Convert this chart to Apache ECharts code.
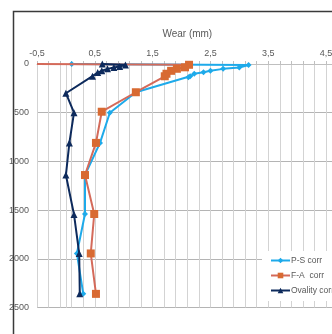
<!DOCTYPE html>
<html><head><meta charset="utf-8">
<script src="https://cdn.jsdelivr.net/npm/echarts@6/dist/echarts.min.js"></script>
<style>html,body{margin:0;padding:0;background:#fff}#c{width:332px;height:334px}</style>
</head><body><div id="c"></div>
<script>
// Data: [wear (mm), depth (mm)]
const psCorr = [[0.1,0],[3.16,10],[3.0,35],[2.72,50],[2.5,70],[2.38,85],[2.22,100],[2.15,125],[2.12,135],[1.21,290],[0.76,500],[0.59,810],[0.33,1140],[0.33,1540],[0.19,1945],[0.3,2360]];
const faCorr = [[-0.5,0],[2.13,8],[2.06,34],[1.92,49],[1.82,70],[1.74,100],[1.71,126],[1.21,290],[0.62,490],[0.52,810],[0.33,1140],[0.49,1540],[0.43,1945],[0.52,2360]];
const ovalityCorr = [[0.63,0],[1.03,10],[0.93,25],[0.83,35],[0.72,50],[0.62,70],[0.55,88],[0.46,125],[0.0,300],[0.14,500],[0.06,810],[0.0,1140],[0.14,1545],[0.23,1945],[0.24,2360]];
const seriesNames = ['P-S corr','F-A  corr','Ovality corr'];
const xTicks = [-0.5,0.5,1.5,2.5,3.5,4.5];
const yTicks = [0,500,1000,1500,2000,2500];

const chart = echarts.init(document.getElementById('c'));
const font = 'Liberation Sans, Arial, sans-serif';
chart.setOption({
  animation:false,
  textStyle:{fontFamily:font},
  graphic:[{type:'rect',shape:{x:13.5,y:11.5,width:400,height:400},style:{fill:null,stroke:'#3a3a3a',lineWidth:1.5},z:-10}],
  grid:{left:37,top:64,right:-5.6,bottom:26.5,containLabel:false,outerBoundsMode:'none'},
  xAxis:{type:'value',position:'top',min:-0.5,max:4.7,interval:0.2,
    name:'Wear (mm)',nameLocation:'middle',nameGap:25,nameTextStyle:{color:'#595959',fontSize:10,fontFamily:font},
    axisLine:{onZero:false,lineStyle:{color:'#bfbfbf'}},
    axisTick:{show:true,length:3,lineStyle:{color:'#bfbfbf'}},
    axisLabel:{interval:4,showMaxLabel:false,color:'#595959',fontSize:9,margin:6,
      formatter:v=>{const r=Math.round(v*10)/10; return xTicks.some(t=>Math.abs(t-r)<1e-6)? r.toFixed(1).replace('.',','):'';}},
    splitLine:{show:true,lineStyle:{color:'#d3d3d3',width:1}}},
  yAxis:{type:'value',inverse:true,min:0,max:2500,interval:500,
    name:'Depth (mm)',nameLocation:'middle',nameGap:34,nameRotate:90,nameTextStyle:{color:'#595959',fontSize:10,fontFamily:font},
    axisLine:{show:true,onZero:true,lineStyle:{color:'#d3d3d3'}},
    axisTick:{show:false},
    axisLabel:{color:'#595959',fontSize:9,margin:8,
      formatter:v=>{const r=Math.round(v); return yTicks.includes(r)? String(r):'';}},
    splitLine:{show:true,lineStyle:{color:'#b4b4b4',width:1}}},
  legend:{orient:'vertical',left:262,top:251,backgroundColor:'#fff',padding:[5,6,6,8],
    itemWidth:19,itemHeight:7,itemGap:6,
    textStyle:{color:'#595959',fontSize:8.5,fontFamily:font,padding:[0,0,0,-4]},
    data:seriesNames},
  series:[
    {name:seriesNames[0],type:'line',data:psCorr,symbol:'diamond',symbolSize:6,
     lineStyle:{color:'#1eaaea',width:2},itemStyle:{color:'#1eaaea'},z:2},
    {name:seriesNames[1],type:'line',data:faCorr.map((d,i)=>i===0?{value:d,symbol:'none'}:d),symbol:'rect',symbolSize:8,
     lineStyle:{color:'#d46a5a',width:2},itemStyle:{color:'#d86a32'},z:3},
    {name:seriesNames[2],type:'line',data:ovalityCorr,symbol:'triangle',symbolSize:7,
     lineStyle:{color:'#0d2a5c',width:2},itemStyle:{color:'#0d2a5c'},z:4}
  ]
});
</script></body></html>
